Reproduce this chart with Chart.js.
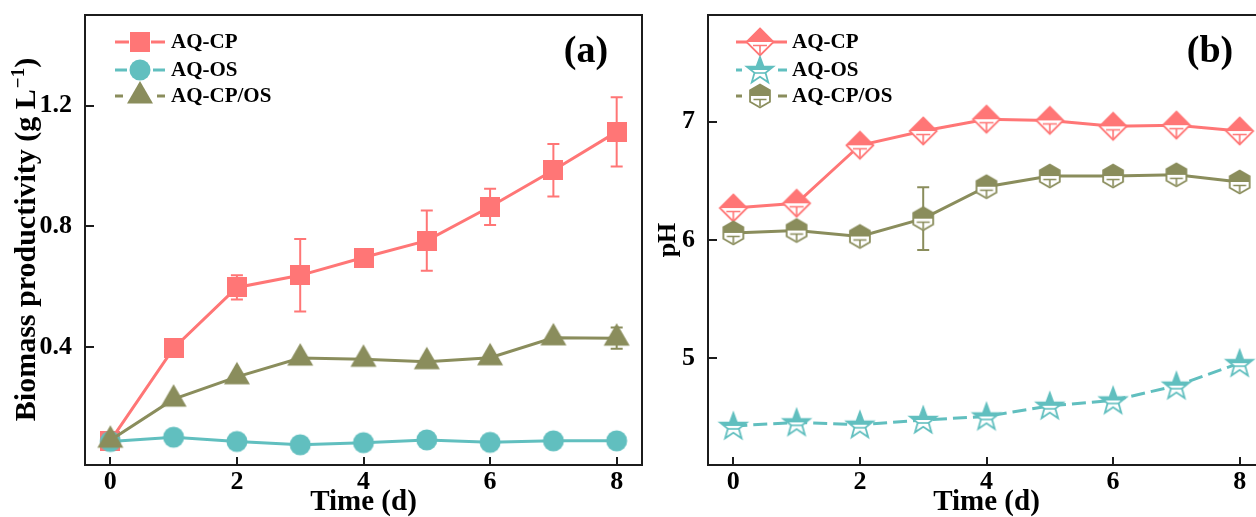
<!DOCTYPE html>
<html>
<head>
<meta charset="utf-8">
<script src="https://cdn.jsdelivr.net/npm/chart.js@4.4.1/dist/chart.umd.min.js"></script>
<style>
  html, body { margin: 0; padding: 0; background: #fff; overflow: hidden; }
  #wrapA { position: absolute; left: 0; top: 0; width: 660px; height: 517px; }
  #wrapB { position: absolute; left: 645px; top: 0; width: 640px; height: 517px; }
</style>
</head>
<body>
<div id="wrapA"><canvas id="chartA"></canvas></div>
<div id="wrapB"><canvas id="chartB"></canvas></div>
<script>
const days = [0, 1, 2, 3, 4, 5, 6, 7, 8];
const xTicks = [0, 2, 4, 6, 8];
const names = ['AQ-CP', 'AQ-OS', 'AQ-CP/OS'];

// (a) biomass productivity (g/L)
const bioCP = [0.09, 0.397, 0.598, 0.638, 0.697, 0.753, 0.865, 0.986, 1.113];
const bioCPErr = [0, 0, 0.04, 0.12, 0, 0.1, 0.06, 0.087, 0.115];
const bioOS = [0.088, 0.102, 0.088, 0.077, 0.084, 0.093, 0.085, 0.09, 0.09];
const bioMix = [0.092, 0.228, 0.302, 0.364, 0.36, 0.352, 0.365, 0.431, 0.43];
const bioMixErr = [0, 0, 0, 0, 0, 0, 0, 0, 0.035];
const bioTicks = [0.4, 0.8, 1.2];

// (b) pH
const phCP = [6.27, 6.31, 6.8, 6.92, 7.02, 7.01, 6.96, 6.97, 6.92];
const phOS = [4.43, 4.46, 4.44, 4.48, 4.51, 4.6, 4.645, 4.77, 4.96];
const phMix = [6.06, 6.08, 6.03, 6.18, 6.45, 6.54, 6.54, 6.55, 6.49];
const phMixErr = [0, 0, 0, 0.265, 0, 0, 0, 0, 0];
const phTicks = [5, 6, 7];

const PINK = '#FF7676';
const TEAL = '#61BFBF';
const OLIVE = '#8A8D5C';
const FONT = "'Liberation Serif', 'Times New Roman', serif";

Chart.defaults.font.family = FONT;
Chart.defaults.font.weight = 'bold';
Chart.defaults.color = '#000';

function makeCanvas(w, h) {
  const c = document.createElement('canvas');
  c.width = w; c.height = h;
  return c;
}

// filled markers for panel (a)
function squareMarker(color) {
  const c = makeCanvas(20, 20), ctx = c.getContext('2d');
  ctx.fillStyle = color; ctx.fillRect(0, 0, 20, 20);
  return c;
}
function circleMarker(color) {
  const c = makeCanvas(24, 24), ctx = c.getContext('2d');
  ctx.fillStyle = color; ctx.beginPath(); ctx.arc(12, 12, 10.5, 0, Math.PI * 2); ctx.fill();
  return c;
}
function triangleMarker(color) {
  const c = makeCanvas(32, 32), ctx = c.getContext('2d');
  const h = 22.5;
  ctx.fillStyle = color; ctx.beginPath();
  ctx.moveTo(16, 16 - h * 2 / 3); ctx.lineTo(29, 16 + h / 3); ctx.lineTo(3, 16 + h / 3);
  ctx.closePath(); ctx.fill();
  return c;
}

// half-filled markers for panel (b)
function halfMarker(kind, color) {
  const c = makeCanvas(34, 34), ctx = c.getContext('2d');
  const cx = 17, cy = 17;
  const path = () => {
    ctx.beginPath();
    if (kind === 'diamond') {
      const r = 13.5;
      ctx.moveTo(cx, cy - r); ctx.lineTo(cx + r, cy); ctx.lineTo(cx, cy + r); ctx.lineTo(cx - r, cy);
    } else if (kind === 'hexagon') {
      const r = 11.5;
      for (let i = 0; i < 6; i++) {
        const a = -Math.PI / 2 + i * Math.PI / 3;
        ctx.lineTo(cx + r * Math.cos(a), cy + r * Math.sin(a));
      }
    } else {
      const R = 14, r = 5.8;
      for (let i = 0; i < 10; i++) {
        const a = -Math.PI / 2 + i * Math.PI / 5;
        const rr = i % 2 ? r : R;
        ctx.lineTo(cx + rr * Math.cos(a), cy + 1 + rr * Math.sin(a));
      }
    }
    ctx.closePath();
  };
  path(); ctx.fillStyle = '#fff'; ctx.fill();
  ctx.save();
  ctx.beginPath(); ctx.rect(0, 0, 34, cy); ctx.clip();
  path(); ctx.fillStyle = color; ctx.fill();
  ctx.restore();
  path(); ctx.strokeStyle = color; ctx.lineWidth = 1.8; ctx.stroke();
  ctx.lineWidth = 1.6; ctx.beginPath();
  if (kind === 'star') {
    ctx.moveTo(cx - 5, cy + 3); ctx.lineTo(cx + 5, cy + 3);
  } else {
    const w = kind === 'diamond' ? 7 : 6.5;
    ctx.moveTo(cx - w, cy + 3.5); ctx.lineTo(cx + w, cy + 3.5);
    ctx.moveTo(cx, cy + 3.5); ctx.lineTo(cx, cy + (kind === 'diamond' ? 12 : 10));
  }
  ctx.stroke();
  return c;
}

const toXY = arr => days.map((d, i) => ({ x: d, y: arr[i] }));

const errorBarPlugin = {
  id: 'errorBars',
  beforeDatasetsDraw(chart) {
    const { ctx, scales: { x, y } } = chart;
    ctx.save();
    ctx.lineWidth = 2;
    chart.data.datasets.forEach(ds => {
      if (!ds.errors) return;
      ctx.strokeStyle = ds.borderColor;
      ds.data.forEach((p, i) => {
        const e = ds.errors[i];
        if (!e) return;
        const px = x.getPixelForValue(p.x);
        const y1 = y.getPixelForValue(p.y + e), y2 = y.getPixelForValue(p.y - e);
        ctx.beginPath();
        ctx.moveTo(px, y1); ctx.lineTo(px, y2);
        ctx.moveTo(px - 6, y1); ctx.lineTo(px + 6, y1);
        ctx.moveTo(px - 6, y2); ctx.lineTo(px + 6, y2);
        ctx.stroke();
      });
    });
    ctx.restore();
  }
};

const framePlugin = {
  id: 'frame',
  afterDraw(chart, args, opts) {
    const { ctx, chartArea: a, scales: { x, y } } = chart;
    ctx.save();
    ctx.strokeStyle = '#1c1c1c';
    ctx.lineWidth = 2;
    ctx.strokeRect(a.left, a.top, a.right - a.left, a.bottom - a.top);
    ctx.beginPath();
    x.ticks.forEach(t => {
      const px = Math.round(x.getPixelForValue(t.value));
      ctx.moveTo(px, a.bottom); ctx.lineTo(px, a.bottom - 8);
    });
    y.ticks.forEach(t => {
      const py = Math.round(y.getPixelForValue(t.value));
      ctx.moveTo(a.left, py); ctx.lineTo(a.left + 9, py);
    });
    ctx.stroke();

    ctx.fillStyle = '#000';
    ctx.font = 'bold 38px ' + FONT;
    ctx.textAlign = 'center';
    ctx.textBaseline = 'middle';
    ctx.fillText(opts.label, opts.labelX, opts.labelY);

    // y title with a real superscript
    if (opts.yTitle) {
      const t = opts.yTitle;
      const big = 'bold 30px ' + FONT, small = 'bold 19px ' + FONT;
      ctx.save();
      ctx.translate(t.x, (a.top + a.bottom) / 2);
      ctx.rotate(-Math.PI / 2);
      ctx.textAlign = 'left';
      ctx.textBaseline = 'alphabetic';
      ctx.font = big; const w1 = ctx.measureText(t.main).width, w3 = ctx.measureText(t.tail).width;
      ctx.font = small; const w2 = ctx.measureText(t.sup).width;
      let sx = -(w1 + w2 + w3) / 2;
      ctx.font = big; ctx.fillText(t.main, sx, 0); sx += w1 + 1;
      ctx.font = small; ctx.fillText(t.sup, sx, -11); sx += w2;
      ctx.font = big; ctx.fillText(t.tail, sx, 0);
      ctx.restore();
    }

    // legend
    const lg = opts.legend;
    ctx.font = 'bold 21px ' + FONT;
    ctx.textAlign = 'left';
    ctx.textBaseline = 'middle';
    chart.data.datasets.forEach((ds, i) => {
      const row = lg.rows[i];
      const img = ds.pointStyle;
      ctx.strokeStyle = ds.borderColor;
      ctx.lineWidth = 3;
      ctx.setLineDash(ds.borderDash || []);
      ctx.beginPath();
      if (lg.gaps[i]) {
        const hw = img.width / 2 + 1;
        ctx.moveTo(lg.x0, row); ctx.lineTo(lg.mx - hw, row);
        ctx.moveTo(lg.mx + hw, row); ctx.lineTo(lg.x1, row);
      } else {
        ctx.moveTo(lg.x0, row); ctx.lineTo(lg.x1, row);
      }
      ctx.stroke();
      ctx.setLineDash([]);
      ctx.drawImage(img, lg.mx - img.width / 2, row - img.height / 2);
      ctx.fillText(names[i], lg.tx, row + 1);
    });
    ctx.restore();
  }
};

function baseOptions(cfg) {
  return {
    responsive: true,
    maintainAspectRatio: false,
    animation: false,
    events: [],
    layout: { padding: { top: 15, right: cfg.padRight, left: 0, bottom: 0 } },
    elements: { line: { tension: 0 } },
    plugins: {
      legend: { display: false },
      tooltip: { enabled: false },
      frame: cfg.frame
    },
    scales: {
      x: {
        type: 'linear',
        min: -0.4,
        max: 8.4,
        grid: { display: false },
        border: { display: false },
        afterBuildTicks: s => { s.ticks = xTicks.map(v => ({ value: v })); },
        ticks: { font: { size: 26, weight: 'bold', lineHeight: 1 }, padding: -4, color: '#000' },
        title: {
          display: true, text: 'Time (d)', color: '#000',
          font: { size: 29, weight: 'bold', lineHeight: 1 }, padding: 0
        },
        afterFit: s => { s.height = 52; s.paddingLeft = 0; s.paddingRight = 0; }
      },
      y: {
        min: cfg.yMin,
        max: cfg.yMax,
        grid: { display: false },
        border: { display: false },
        afterBuildTicks: s => { s.ticks = cfg.yTicks.map(v => ({ value: v })); },
        ticks: {
          font: { size: 26, weight: 'bold', lineHeight: 1 }, padding: 5, color: '#000',
          callback: cfg.fmt
        },
        title: {
          display: !!cfg.yTitle, text: cfg.yTitle || '', color: '#000',
          font: { size: 26, weight: 'bold', lineHeight: 1 }, padding: { top: cfg.titlePad || 0, bottom: 0 }
        },
        afterFit: s => { s.width = cfg.yWidth; s.paddingTop = 0; s.paddingBottom = 0; }
      }
    }
  };
}

new Chart(document.getElementById('chartA'), {
  type: 'line',
  data: {
    datasets: [
      { data: toXY(bioCP), errors: bioCPErr, borderColor: PINK, borderWidth: 3,
        pointStyle: squareMarker(PINK), pointRadius: 10, order: 2 },
      { data: toXY(bioOS), borderColor: TEAL, borderWidth: 3,
        pointStyle: circleMarker(TEAL), pointRadius: 10, order: 1 },
      { data: toXY(bioMix), errors: bioMixErr, borderColor: OLIVE, borderWidth: 3,
        pointStyle: triangleMarker(OLIVE), pointRadius: 10, order: 0 }
    ]
  },
  options: baseOptions({
    padRight: 18, yWidth: 85, yMin: 0.01, yMax: 1.5, yTicks: bioTicks,
    fmt: v => v.toFixed(1),
    frame: {
      label: '(a)', labelX: 586, labelY: 52,
      yTitle: { x: 35, main: 'Biomass productivity (g L', sup: '\u22121', tail: ')' },
      legend: { x0: 115, x1: 165, mx: 140, tx: 171, rows: [42, 70, 96], gaps: [true, true, true] }
    }
  }),
  plugins: [errorBarPlugin, framePlugin]
});

new Chart(document.getElementById('chartB'), {
  type: 'line',
  data: {
    datasets: [
      { data: toXY(phCP), borderColor: PINK, borderWidth: 3,
        pointStyle: halfMarker('diamond', PINK), pointRadius: 12, order: 2 },
      { data: toXY(phOS), borderColor: TEAL, borderWidth: 3, borderDash: [14, 6],
        pointStyle: halfMarker('star', TEAL), pointRadius: 12, order: 1 },
      { data: toXY(phMix), errors: phMixErr, borderColor: OLIVE, borderWidth: 3,
        pointStyle: halfMarker('hexagon', OLIVE), pointRadius: 12, order: 0 }
    ]
  },
  options: baseOptions({
    padRight: 20, yWidth: 63, yMin: 4.1, yMax: 7.9, yTicks: phTicks,
    fmt: v => String(v), yTitle: 'pH', titlePad: 10,
    frame: {
      label: '(b)', labelX: 565, labelY: 52,
      legend: { x0: 91, x1: 142, mx: 115, tx: 147, rows: [42, 70, 96], gaps: [false, true, true] }
    }
  }),
  plugins: [errorBarPlugin, framePlugin]
});
</script>
</body>
</html>
